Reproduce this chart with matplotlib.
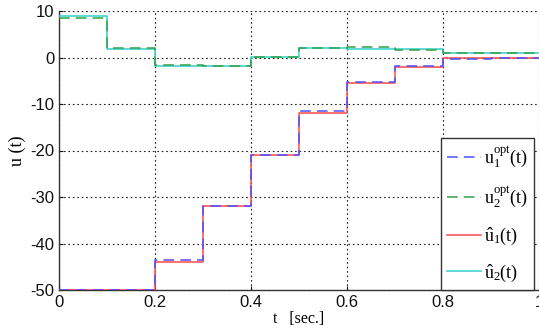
import matplotlib
matplotlib.use("Agg")
import matplotlib.pyplot as plt
import numpy as np

# step boundaries (sec.)
t_steps = [0.0, 0.1, 0.2, 0.3, 0.4, 0.5, 0.6, 0.7, 0.8, 0.9, 1.0]
# values held on each interval (last value repeated for the end point)
u1_opt = [-50, -50, -43.5, -32, -21, -11.6, -5.2, -1.8, -0.4, 0.0, 0.0]
u2_opt = [8.5, 2.0, -1.7, -1.8, 0.2, 2.0, 2.3, 1.6, 0.9, 0.9, 0.9]
u1_hat = [-50, -50, -44.0, -32, -21, -12.0, -5.4, -2.0, -0.1, -0.1, -0.1]
u2_hat = [8.9, 1.9, -1.9, -1.9, 0.1, 1.95, 1.9, 1.9, 0.9, 0.9, 0.9]

labels = [r'$\mathrm{u}_{1}^{\mathrm{opt}}\mathrm{(t)}$',
          r'$\mathrm{u}_{2}^{\mathrm{opt}}\mathrm{(t)}$',
          r'$\hat{\mathrm{u}}_{1}\mathrm{(t)}$',
          r'$\hat{\mathrm{u}}_{2}\mathrm{(t)}$']
xticks = [0, 0.2, 0.4, 0.6, 0.8, 1]
xticklabels = ['0', '0.2', '0.4', '0.6', '0.8', '1']
yticks = [-50, -40, -30, -20, -10, 0, 10]

plt.rcParams['mathtext.fontset'] = 'custom'
plt.rcParams['mathtext.rm'] = 'Liberation Serif'
plt.rcParams['mathtext.it'] = 'Liberation Serif:italic'
plt.rcParams['font.family'] = ['Liberation Sans', 'DejaVu Sans']
plt.rcParams['axes.unicode_minus'] = False

fig = plt.figure(figsize=(5.39, 3.29), dpi=100)
ax = fig.add_axes([59/539, 1-290/329, 480/539, 279/329])

ax.plot(t_steps, u1_opt, drawstyle='steps-post', color='#5050ff', lw=1.1, ls=(0, (7, 4)), label=labels[0], zorder=4)
ax.plot(t_steps, u2_opt, drawstyle='steps-post', color='#33a04a', lw=1.1, ls=(0, (7, 4)), label=labels[1], zorder=4)
ax.plot(t_steps, u1_hat, drawstyle='steps-post', color='#ff4848', lw=1.1, label=labels[2], zorder=3)
ax.plot(t_steps, u2_hat, drawstyle='steps-post', color='#30d0c8', lw=1.1, label=labels[3], zorder=3)

ax.set_xlim(0, 1)
ax.set_ylim(-50, 10)
ax.set_xticks(xticks)
ax.set_xticklabels(xticklabels)
ax.set_yticks(yticks)
ax.tick_params(direction='in', length=3, labelsize=12, colors='#111111')
ax.grid(True, color='#222222', ls=(0, (1.5, 2.5)), lw=0.8)
ax.spines['top'].set_visible(False)
ax.spines['right'].set_visible(False)
for s in ['left', 'bottom']:
    ax.spines[s].set_color('#333333')
    ax.spines[s].set_linewidth(1.0)

ax.set_xlabel('t   [sec.]', family='Liberation Serif', fontsize=11.5, labelpad=1)
ax.set_ylabel('u (t)', family='Liberation Serif', fontsize=13, labelpad=3)

leg = ax.legend(loc='lower left', bbox_to_anchor=(0.796, 0.0), borderaxespad=0,
                fontsize=13, handlelength=1.85, handletextpad=0.15,
                labelspacing=0.85, fancybox=False, framealpha=1,
                edgecolor='#333333', borderpad=0.35)
leg.get_frame().set_linewidth(1.0)

fig.savefig('out.png', dpi=100)
